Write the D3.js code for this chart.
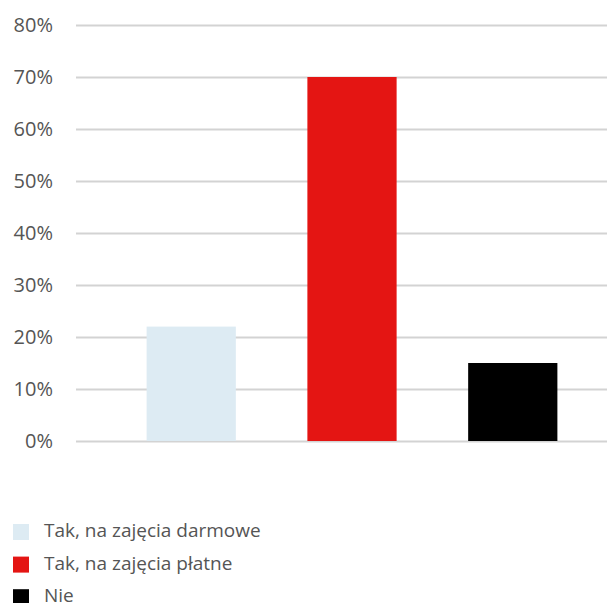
<!DOCTYPE html>
<html>
<head>
<meta charset="utf-8">
<script src="https://cdn.jsdelivr.net/npm/d3@7"></script>
<style>
  body { margin: 0; background: #fff; }
  svg { display: block; }
</style>
</head>
<body>
<script>
const categories = ["Tak, na zajęcia darmowe", "Tak, na zajęcia płatne", "Nie"];
const values = [22, 70, 15];
const colors = ["#ddebf3", "#e41513", "#000000"];
const yTicks = [0, 10, 20, 30, 40, 50, 60, 70, 80];

const width = 607, height = 603;
const font = "'Open Sans', 'DejaVu Sans', sans-serif";

const svg = d3.select("body").append("svg")
  .attr("width", width)
  .attr("height", height);

const y = d3.scaleLinear().domain([0, 80]).range([441, 25]);
const x = d3.scaleBand()
  .domain(categories)
  .range([86, 618])
  .paddingInner(0.445)
  .paddingOuter(0.377);

// grid + labels
const yAxis = d3.axisLeft(y)
  .tickValues(yTicks)
  .tickFormat(d => d + "%")
  .tickSize(-(width - 76))
  .tickPadding(23);

const g = svg.append("g")
  .attr("transform", "translate(76,0)")
  .call(yAxis);
g.select(".domain").remove();
g.selectAll(".tick line")
  .attr("stroke", "#d3d3d3")
  .attr("stroke-width", 2);
g.selectAll(".tick text")
  .attr("fill", "#555")
  .attr("font-size", "20px")
  .attr("font-family", font);

// bars
svg.selectAll("rect.bar")
  .data(categories)
  .join("rect")
  .attr("class", "bar")
  .attr("x", d => x(d))
  .attr("width", x.bandwidth())
  .attr("y", (d, i) => y(values[i]))
  .attr("height", (d, i) => y(0) - y(values[i]))
  .attr("fill", (d, i) => colors[i]);

// legend
const legend = svg.selectAll("g.legend")
  .data(categories)
  .join("g")
  .attr("class", "legend")
  .attr("transform", (d, i) => `translate(13,${524 + i * 32.6})`);

legend.append("rect")
  .attr("width", 16)
  .attr("height", 16)
  .attr("fill", (d, i) => colors[i]);

legend.append("text")
  .attr("x", 31)
  .attr("y", 13)
  .attr("fill", "#555")
  .attr("font-size", "19px")
  .attr("font-family", font)
  .text(d => d);
</script>
</body>
</html>
